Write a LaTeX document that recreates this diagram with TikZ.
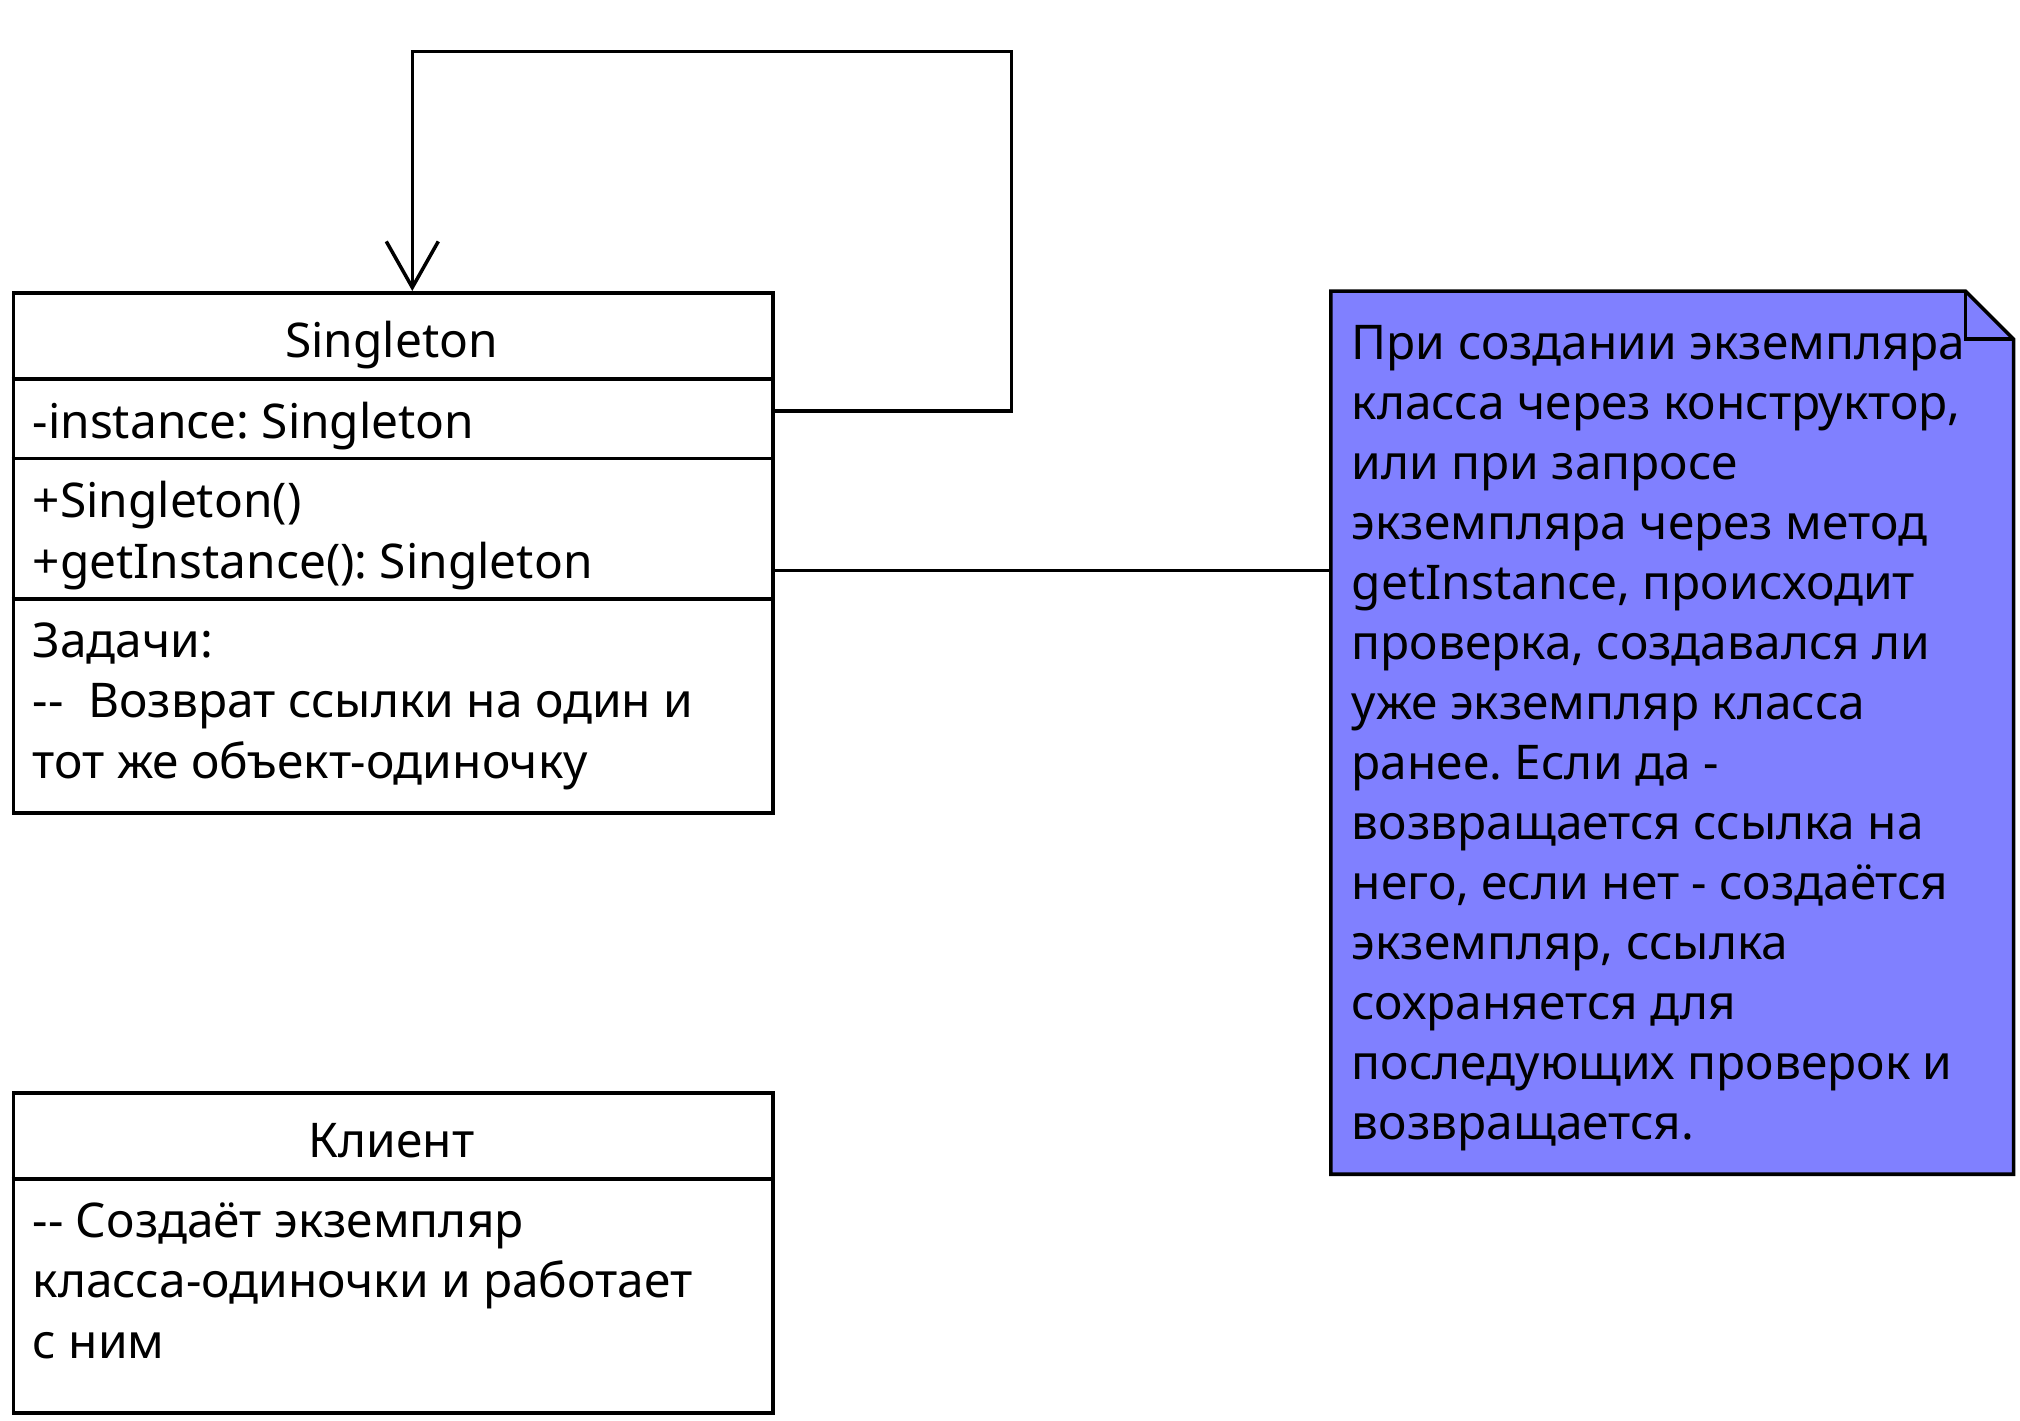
\documentclass[tikz,border=0pt]{standalone}
\usepackage{fontspec}
\setmainfont{Noto Sans}
\usetikzlibrary{arrows.meta}
\definecolor{notefill}{HTML}{8080FF}
\frenchspacing

\begin{document}
\begin{tikzpicture}[x=0.01cm, y=-0.01cm, line width=1pt,
  every node/.style={font=\fontsize{13.6}{17.07}\selectfont, inner sep=0pt},
  classbox/.style={draw, anchor=north west, minimum width=7.59cm},
  txt/.style={anchor=base west, align=left},
  assoc/.style={-{Straight Barb[length=0.46cm, width=0.52cm]}}]
  \useasboundingbox (0,0) rectangle (2020,1420);

  % class Singleton
  \node[classbox, minimum height=5.2cm] (single) at (11.6,291) {};
  \draw ([yshift=-0.878cm]single.north west) -- ([yshift=-0.878cm]single.north east);
  \draw ([yshift=-1.676cm]single.north west) -- ([yshift=-1.676cm]single.north east);
  \draw ([yshift=-3.08cm]single.north west) -- ([yshift=-3.08cm]single.north east);
  \node[anchor=base] (singletitle) at (391.6,357) {Singleton};
  \node[txt] (singleattr) at (31,438) {-instance: Singleton};
  % base of a multi-line node is its last line
  \node[txt] (singleops) at (31,578) {+Singleton()\\+getInstance(): Singleton};
  \node[txt] (singletask) at (31,778) {Задачи:\\-{}-\ \ Возврат ссылки на один и\\тот же объект-одиночку};

  % class Klient
  \node[classbox, minimum height=3.2cm] (client) at (11.6,1091.2) {};
  \draw ([yshift=-0.876cm]client.north west) -- ([yshift=-0.876cm]client.north east);
  \node[anchor=base] (clienttitle) at (391.6,1157.4) {Клиент};
  \node[txt] (clientbody) at (31,1358) {-{}- Создаёт экземпляр\\класса-одиночки и работает\\с ним};

  % note
  \node[anchor=north west, minimum width=6.79cm, minimum height=8.79cm] (note) at (1330.8,291.2) {};
  \filldraw[fill=notefill] (note.north west) -- ([xshift=-0.48cm]note.north east)
    -- ([yshift=-0.48cm]note.north east) -- (note.south east) -- (note.south west) -- cycle;
  \draw ([xshift=-0.48cm]note.north east) |- ([yshift=-0.48cm]note.north east);
  \node[txt] (notetext) at (1350,1139.5) {При создании экземпляра\\класса через конструктор,\\или при запросе\\экземпляра через метод\\getInstance, происходит\\проверка, создавался ли\\уже экземпляр класса\\ранее. Если да -\\возвращается ссылка на\\него, если нет - создаётся\\экземпляр, ссылка\\сохраняется для\\последующих проверок и\\возвращается.};

  % connectors
  \coordinate (loopA) at (1011.3,411);
  \coordinate (loopB) at (1011.3,51.5);
  \coordinate (loopC) at (412.3,51.5);
  \draw[assoc] (single.east |- loopA) -- (loopA) -- (loopB) -- (loopC) -- (loopC |- single.north);
  \coordinate (notelink) at (771.7,570.7);
  \draw (notelink) -- (notelink -| note.west);
\end{tikzpicture}
\end{document}
